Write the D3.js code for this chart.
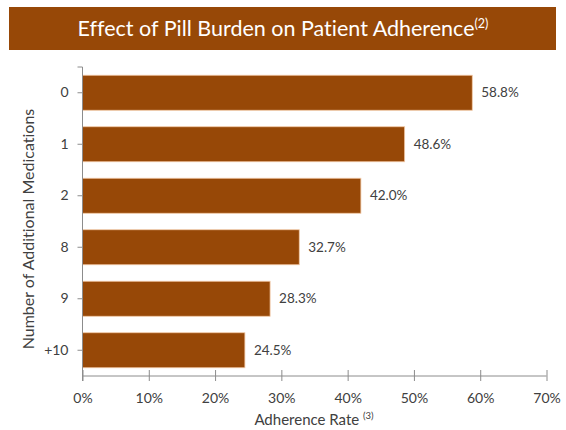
<!DOCTYPE html>
<html>
<head>
<meta charset="utf-8">
<script src="https://cdn.jsdelivr.net/npm/d3@7"></script>
<style>
  html, body { margin: 0; padding: 0; background: #fff; }
  svg { display: block; font-family: Lato, "Open Sans", sans-serif; font-variant-ligatures: none; }
</style>
</head>
<body>
<svg id="chart" width="566" height="430"></svg>
<script>
// Adherence by number of additional medications
const categories = ["0", "1", "2", "8", "9", "+10"];
const adherence = [58.8, 48.6, 42.0, 32.7, 28.3, 24.5];
const xTicks = [0, 10, 20, 30, 40, 50, 60, 70];

const titleText = "Effect of Pill Burden on Patient Adherence";
const titleNote = "(2)";
const xTitle = "Adherence Rate";
const xNote = "(3)";
const yTitle = "Number of Additional Medications";

const brown = "#974807";
const textColor = "#404040";
const axisColor = "#8c8c8c";

const svg = d3.select("#chart");

// Title banner
svg.append("rect")
  .attr("x", 9).attr("y", 7).attr("width", 547).attr("height", 43)
  .attr("fill", brown);
const t = svg.append("text")
  .attr("x", 283).attr("y", 36)
  .attr("text-anchor", "middle")
  .attr("fill", "#fff")
  .attr("font-size", 21.5);
t.append("tspan").text(titleText);
t.append("tspan").attr("font-size", 12.5).attr("dy", -8).text(titleNote);

const margin = { left: 82.5, right: 546.5, top: 67, bottom: 376 };

const x = d3.scaleLinear().domain([0, 70]).range([margin.left, margin.right]);
const y = d3.scaleBand().domain(categories).range([margin.top, margin.bottom]).paddingInner(0.32).paddingOuter(0.16);

// Bars
svg.append("g").selectAll("rect")
  .data(adherence)
  .join("rect")
  .attr("x", x(0))
  .attr("y", (d, i) => y(categories[i]))
  .attr("width", d => x(d) - x(0))
  .attr("height", y.bandwidth())
  .attr("fill", brown)
  .attr("stroke", "#f2c9a6")
  .attr("stroke-width", 0.8);

// Value labels
svg.append("g").selectAll("text")
  .data(adherence)
  .join("text")
  .attr("x", d => x(d) + 9)
  .attr("y", (d, i) => y(categories[i]) + y.bandwidth() / 2)
  .attr("dy", "0.35em")
  .attr("font-size", 13.5)
  .attr("fill", textColor)
  .text(d => d.toFixed(1) + "%");

// X axis
const xAxis = svg.append("g")
  .attr("transform", `translate(0,${margin.bottom})`)
  .call(d3.axisBottom(x).tickValues(xTicks).tickFormat(d => d + "%").tickSize(5).tickPadding(12));
xAxis.select(".domain").attr("stroke", axisColor).attr("d", `M${margin.left},0H${margin.right}`);
xAxis.selectAll(".tick line").attr("stroke", axisColor).attr("y1", -6).attr("y2", 5);
xAxis.selectAll(".tick text").attr("fill", textColor).attr("font-size", 14).attr("font-family", "Lato, sans-serif");

// Y axis
const yAxis = svg.append("g")
  .attr("transform", `translate(${margin.left},0)`)
  .call(d3.axisLeft(y).tickSize(5).tickPadding(9));
yAxis.select(".domain").attr("stroke", axisColor).attr("d", `M-5,${margin.top}H0V${margin.bottom + 5}`);
yAxis.selectAll(".tick line").attr("stroke", axisColor);
yAxis.selectAll(".tick text").attr("fill", textColor).attr("font-size", 14).attr("font-family", "Lato, sans-serif");

// Axis titles
const xt = svg.append("text")
  .attr("x", 314).attr("y", 425)
  .attr("text-anchor", "middle")
  .attr("fill", textColor)
  .attr("font-size", 15);
xt.append("tspan").text(xTitle + " ");
xt.append("tspan").attr("font-size", 9.5).attr("dy", -6).text(xNote);

svg.append("text")
  .attr("transform", "translate(34,229) rotate(-90)")
  .attr("text-anchor", "middle")
  .attr("fill", textColor)
  .attr("font-size", 16)
  .text(yTitle);
</script>
</body>
</html>
